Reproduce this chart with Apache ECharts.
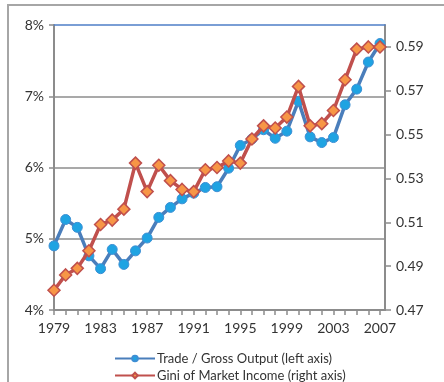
<!DOCTYPE html>
<html>
<head>
<meta charset="utf-8">
<script src="https://cdn.jsdelivr.net/npm/echarts@6/dist/echarts.min.js"></script>
<style>
  html, body { margin: 0; padding: 0; background: #fff; }
  #frame { position: absolute; left: 7px; top: 4px; width: 460px; height: 400px;
           border: 2px solid #a6a6a6; box-sizing: border-box; }
  #chart { position: absolute; left: 0; top: 0; width: 444px; height: 382px; }
</style>
</head>
<body>
<div id="frame"></div>
<div id="chart"></div>
<script>
// Years on the horizontal axis
const years = [1979, 1980, 1981, 1982, 1983, 1984, 1985, 1986, 1987, 1988,
               1989, 1990, 1991, 1992, 1993, 1994, 1995, 1996, 1997, 1998,
               1999, 2000, 2001, 2002, 2003, 2004, 2005, 2006, 2007];

// Trade / gross output, percent (left axis)
const tradeShare = [4.90, 5.27, 5.16, 4.76, 4.58, 4.85, 4.64, 4.83, 5.01, 5.30,
                    5.44, 5.56, 5.64, 5.72, 5.73, 5.99, 6.31, 6.40, 6.53, 6.41,
                    6.51, 6.93, 6.43, 6.35, 6.42, 6.88, 7.10, 7.48, 7.74];

// Gini coefficient of market income (right axis)
const giniMarket = [0.479, 0.486, 0.489, 0.497, 0.509, 0.511, 0.516, 0.537, 0.524, 0.536,
                    0.529, 0.525, 0.524, 0.534, 0.535, 0.538, 0.537, 0.548, 0.554, 0.553,
                    0.558, 0.572, 0.554, 0.555, 0.561, 0.575, 0.589, 0.590, 0.590];

const leftTicks = { min: 4, max: 8, step: 1 };
const rightTicks = { min: 0.47, max: 0.60, step: 0.02 };
const labelYears = { first: 1979, step: 4 };

const seriesNames = ['Trade / Gross Output (left axis)', 'Gini of Market Income (right axis)'];

const axisGrey = '#8c8c8c';
const textColor = '#333';
const font = 'Lato, "Open Sans", sans-serif';

const chart = echarts.init(document.getElementById('chart'), null, { renderer: 'canvas' });

const xMax = years[years.length - 1] + 0.43;

chart.setOption({
  animation: false,
  grid: { left: 54, right: 59, top: 25, bottom: 72, containLabel: false },
  legend: {
    orient: 'vertical',
    left: 114,
    bottom: 0,
    padding: 0,
    itemWidth: 40,
    itemHeight: 7,
    itemGap: 4,
    textStyle: { fontFamily: font, fontSize: 13, color: textColor, padding: [0, 0, 0, -3] },
    data: seriesNames
  },
  xAxis: [
    {
      type: 'value',
      min: years[0],
      max: xMax,
      interval: 1,
      axisLine: { show: true, onZero: false, lineStyle: { color: axisGrey, width: 2 } },
      axisTick: { show: true, length: 5, lineStyle: { color: axisGrey, width: 1.5 } },
      splitLine: { show: false },
      axisLabel: {
        margin: 11,
        fontFamily: font,
        fontSize: 14,
        color: textColor,
        showMaxLabel: false,
        formatter: v => (Number.isInteger(v) && (v - labelYears.first) % labelYears.step === 0) ? String(v) : ''
      }
    },
    {
      type: 'value',
      position: 'top',
      min: years[0],
      max: xMax,
      axisLine: { show: true, onZero: false, lineStyle: { color: '#4f7fc8', width: 1.5 } },
      axisTick: { show: false },
      axisLabel: { show: false },
      splitLine: { show: false }
    }
  ],
  yAxis: [
    {
      type: 'value',
      position: 'left',
      min: leftTicks.min,
      max: leftTicks.max,
      interval: leftTicks.step,
      axisLine: { show: true, onZero: false, lineStyle: { color: axisGrey, width: 2 } },
      axisTick: { show: true, length: 5, lineStyle: { color: axisGrey, width: 1.5 } },
      splitLine: { show: true, showMinLine: false, showMaxLine: false,
                   lineStyle: { color: axisGrey, width: 1.5 } },
      axisLabel: { margin: 10, fontFamily: font, fontSize: 14, color: textColor,
                   formatter: '{value}%' }
    },
    {
      type: 'value',
      position: 'right',
      min: rightTicks.min,
      max: rightTicks.max,
      interval: rightTicks.step,
      axisLine: { show: true, onZero: false, lineStyle: { color: axisGrey, width: 2 } },
      axisTick: { show: true, length: 6, lineStyle: { color: axisGrey, width: 1.5 } },
      splitLine: { show: false },
      axisLabel: {
        margin: 11, fontFamily: font, fontSize: 14, color: textColor,
        showMaxLabel: false,
        formatter: v => (v > rightTicks.max - rightTicks.step / 2) ? '' : v.toFixed(2)
      }
    }
  ],
  series: [
    {
      name: seriesNames[0],
      type: 'line',
      xAxisIndex: 0,
      yAxisIndex: 0,
      data: years.map((y, i) => [y, tradeShare[i]]),
      symbol: 'circle',
      symbolSize: 10,
      lineStyle: { color: '#4a7ebb', width: 3.5 },
      itemStyle: { color: '#1fa3e2', borderColor: '#3d8fd4', borderWidth: 1 },
      z: 2
    },
    {
      name: seriesNames[1],
      type: 'line',
      xAxisIndex: 0,
      yAxisIndex: 1,
      data: years.map((y, i) => [y, giniMarket[i]]),
      symbol: 'diamond',
      symbolSize: 12,
      lineStyle: { color: '#c0504d', width: 3.5 },
      itemStyle: { color: '#f79646', borderColor: '#c0504d', borderWidth: 1.5 },
      z: 3
    }
  ]
});
</script>
</body>
</html>
